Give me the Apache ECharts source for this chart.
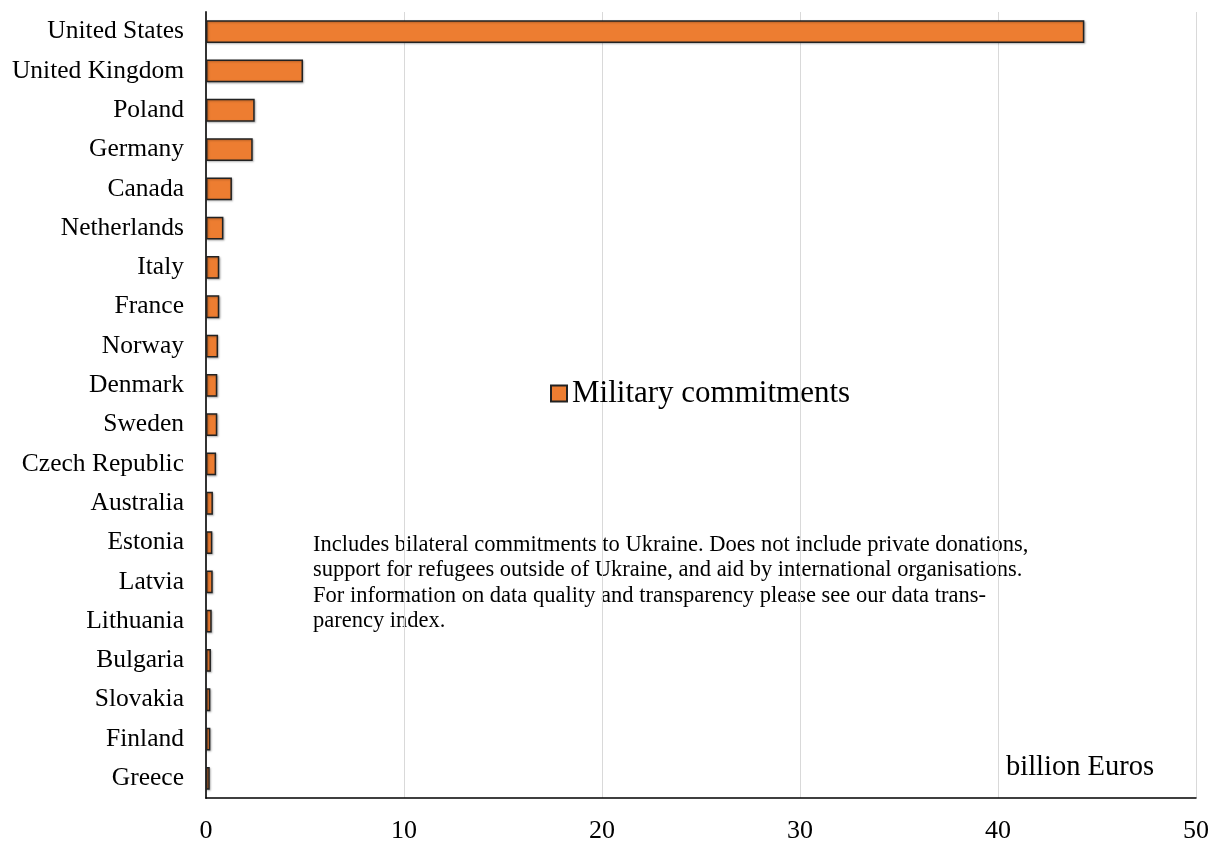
<!DOCTYPE html>
<html>
<head>
<meta charset="utf-8">
<script src="https://cdn.jsdelivr.net/npm/echarts@6/dist/echarts.min.js"></script>
<style>html,body{margin:0;padding:0;background:#fff}#c{width:1212px;height:846px}</style>
</head>
<body>
<div id="c"></div>
<script>
const countries = ["United States","United Kingdom","Poland","Germany","Canada","Netherlands","Italy","France","Norway","Denmark","Sweden","Czech Republic","Australia","Estonia","Latvia","Lithuania","Bulgaria","Slovakia","Finland","Greece"];
const military = [44.36,4.9,2.46,2.36,1.31,0.88,0.67,0.67,0.61,0.57,0.57,0.51,0.35,0.32,0.34,0.29,0.25,0.22,0.22,0.19];
const xTicks = [0,10,20,30,40,50];
const seriesName = "Military commitments";
const noteLines = [
  "Includes bilateral commitments to Ukraine. Does not include private donations,",
  "support for refugees outside of Ukraine, and aid by international organisations.",
  "For information on data quality and transparency please see our data trans-",
  "parency index."
];
const unitLabel = "billion Euros";

const FONT = '"Liberation Serif", "Times New Roman", serif';
const chart = echarts.init(document.getElementById('c'), null, {renderer: 'canvas'});
chart.setOption({
  backgroundColor: '#fff',
  animation: false,
  grid: {left: 206, right: 16, top: 12, bottom: 48, containLabel: false},
  legend: {
    data: [seriesName],
    left: 545, top: 373,
    icon: 'rect', itemWidth: 16, itemHeight: 16, itemGap: 6,
    textStyle: {fontFamily: FONT, fontSize: 31, color: '#000'}
  },
  xAxis: {
    type: 'value', min: xTicks[0], max: xTicks[xTicks.length-1], interval: 10,
    axisLine: {show: true, lineStyle: {color: '#000', width: 1.5}},
    axisTick: {show: false},
    axisLabel: {fontFamily: FONT, fontSize: 26, color: '#000', margin: 20},
    splitLine: {show: true, lineStyle: {color: '#d9d9d9', width: 1}}
  },
  yAxis: {
    type: 'category', data: countries, inverse: true,
    axisLine: {show: true, lineStyle: {color: '#333', width: 2}},
    axisTick: {show: false},
    axisLabel: {fontFamily: FONT, fontSize: 25.5, color: '#000', margin: 22, padding: [4, 0, 0, 0]}
  },
  series: [{
    name: seriesName, type: 'bar', data: military, barWidth: '58%',
    itemStyle: {color: '#ED7D31', borderColor: '#222', borderWidth: 1.5,
      shadowColor: 'rgba(0,0,0,0.25)', shadowBlur: 2, shadowOffsetX: 1, shadowOffsetY: 1}
  }],
  graphic: [
    {type: 'text', left: 313, top: 532, style: {text: noteLines.join('\n'), font: '22.5px ' + FONT, fill: '#000', lineHeight: 25.5}},
    {type: 'text', left: 1006, top: 753, style: {text: unitLabel, font: '28.5px ' + FONT, fill: '#000'}}
  ]
});
</script>
</body>
</html>
